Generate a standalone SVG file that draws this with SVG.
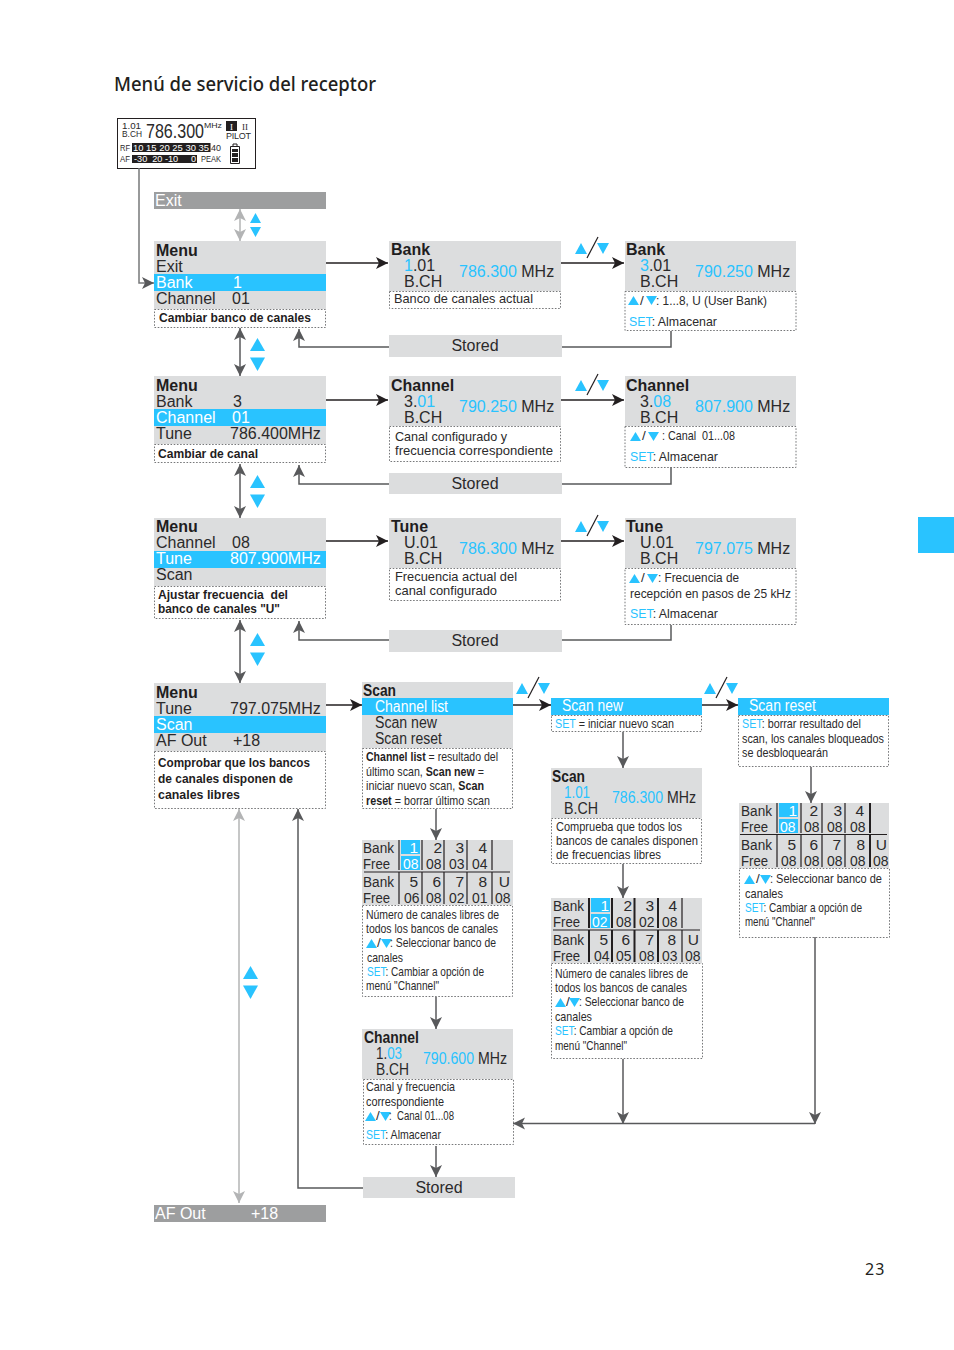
<svg xmlns="http://www.w3.org/2000/svg" xmlns:xlink="http://www.w3.org/1999/xlink" width="954" height="1350" viewBox="0 0 954 1350">
<style>
text{font-family:"Liberation Sans",Arial,sans-serif;font-size:16px;fill:#2b2a2b;white-space:pre}
.b{font-weight:700;fill:#1f1d1e}
.w{fill:#fff}
.c{fill:#29c3ff}
tspan.c{fill:#29c3ff}
.m{text-anchor:middle}
.e{text-anchor:end}
.t{font-size:15.500px}
.n{font-size:13.500px}
.nb{font-size:13.500px;font-weight:700;fill:#1f1d1e}
tspan.nb{font-weight:700;fill:#1f1d1e}
.x{font-size:9px}
.g{fill:#dcddde}
.bl{fill:#29c3ff}
.dg{fill:#9d9e9f}
.d{fill:none;stroke:#77787a;stroke-width:1;stroke-dasharray:1.6 1.6}
.k{fill:none;stroke:#231f20;stroke-width:1.4}
.s{fill:none;stroke:#58595b;stroke-width:1.5}
.l{fill:none;stroke:#b3b4b5;stroke-width:1.5}
.v{stroke:#231f20;stroke-width:2;fill:none}
.v1{stroke:#231f20;stroke-width:1.200;fill:none}
</style>
<defs>
<marker id="ak" markerUnits="userSpaceOnUse" markerWidth="14" markerHeight="14" refX="12" refY="6" orient="auto-start-reverse"><path d="M0,0L12,6L0,12L3,6Z" fill="#231f20"/></marker>
<marker id="as" markerUnits="userSpaceOnUse" markerWidth="14" markerHeight="14" refX="12" refY="6" orient="auto-start-reverse"><path d="M0,0L12,6L0,12L3,6Z" fill="#58595b"/></marker>
<marker id="al" markerUnits="userSpaceOnUse" markerWidth="14" markerHeight="14" refX="12" refY="6" orient="auto-start-reverse"><path d="M0,0L12,6L0,12L3,6Z" fill="#b3b4b5"/></marker>
<g id="tu"><path d="M0,0L5.500,-9L11,0Z" fill="#29c3ff"/></g>
<g id="td"><path d="M0,-9L11,-9L5.500,0Z" fill="#29c3ff"/></g>
<g id="updown"><path d="M0,11L6,0L12,11Z" fill="#29c3ff"/><path d="M22,0L34,0L28,11Z" fill="#29c3ff"/><path d="M12,15L23,-6" stroke="#231f20" stroke-width="1.2" fill="none"/></g>
<g id="big"><path d="M0,13L7.500,0L15,13Z" fill="#29c3ff"/><path d="M0,19.500L15,19.500L7.500,33Z" fill="#29c3ff"/></g>
</defs>

<text x="114" y="91" textLength="262" lengthAdjust="spacingAndGlyphs" style="font-family:'Noto Sans','Open Sans',sans-serif;font-size:19.500px;font-weight:500;fill:#231f20">Menú de servicio del receptor</text>

<g id="display">
<rect x="117.500" y="118.500" width="138" height="50" fill="#fff" stroke="#231f20" stroke-width="1"/>
<text x="122" y="129" class="x" textLength="19" lengthAdjust="spacingAndGlyphs">1.01</text>
<text x="122" y="137" class="x" textLength="20" lengthAdjust="spacingAndGlyphs">B.CH</text>
<text x="146" y="138" style="font-size:20px" textLength="58" lengthAdjust="spacingAndGlyphs">786.300</text>
<text x="204" y="128" style="font-size:8px" textLength="18" lengthAdjust="spacingAndGlyphs">MHz</text>
<rect x="226" y="121" width="11" height="10" fill="#231f20"/>
<text x="231.500" y="130" class="m" style="font-size:9px;font-family:'Liberation Serif',serif;fill:#fff">I</text>
<text x="245" y="130" class="m" style="font-size:9px;font-family:'Liberation Serif',serif">II</text>
<text x="226" y="139" class="x" textLength="25" lengthAdjust="spacing">PILOT</text>
<rect x="132" y="143" width="78.500" height="9" fill="#231f20"/>
<rect x="132" y="155" width="65" height="8" fill="#231f20"/>
<text x="120" y="151" style="font-size:8.500px" textLength="10" lengthAdjust="spacingAndGlyphs">RF</text>
<text x="120" y="162" style="font-size:8.500px" textLength="10" lengthAdjust="spacingAndGlyphs">AF</text>
<text x="133" y="151" class="w" style="font-size:8.500px" textLength="76" lengthAdjust="spacingAndGlyphs">10 15 20 25 30 35</text>
<text x="211" y="151" style="font-size:8.500px" textLength="10" lengthAdjust="spacingAndGlyphs">40</text>
<text x="134" y="162" class="w" style="font-size:8.500px" textLength="62" lengthAdjust="spacingAndGlyphs">-30  20 -10     0</text>
<text x="201" y="162" style="font-size:8.500px" textLength="20" lengthAdjust="spacingAndGlyphs">PEAK</text>
<path d="M230.500,146.500h9v17h-9zM233,146v-2h4v2" fill="none" stroke="#231f20" stroke-width="1"/>
<path d="M232,149h6v3h-6zM232,153h6v4h-6zM232,158h6v4h-6z" fill="#231f20"/>
</g>

<g id="connectors">
<path class="s" style="stroke:#77787a" d="M139,168V283H154" marker-end="url(#as)"/>
<path class="l" d="M240,209V241" marker-start="url(#al)" marker-end="url(#al)"/>
<path class="k" d="M326,263H388" marker-end="url(#ak)"/>
<path class="k" d="M561,263H624" marker-end="url(#ak)"/>
<path class="s" d="M240,328V376" marker-start="url(#as)" marker-end="url(#as)"/>
<path class="s" d="M389,347H299V329" marker-end="url(#as)"/>
<path class="s" d="M562,347H671V331"/>
<path class="k" d="M326,400H388" marker-end="url(#ak)"/>
<path class="k" d="M561,400H624" marker-end="url(#ak)"/>
<path class="s" d="M240,464V518" marker-start="url(#as)" marker-end="url(#as)"/>
<path class="s" d="M389,484H299V465" marker-end="url(#as)"/>
<path class="s" d="M562,484H671V467"/>
<path class="k" d="M326,541H388" marker-end="url(#ak)"/>
<path class="k" d="M561,541H624" marker-end="url(#ak)"/>
<path class="s" d="M240,620V683" marker-start="url(#as)" marker-end="url(#as)"/>
<path class="s" d="M389,640H299V621" marker-end="url(#as)"/>
<path class="s" d="M562,640H671V625"/>
<path class="k" d="M326,705H362" marker-end="url(#ak)"/>
<path class="k" d="M513,705H551" marker-end="url(#ak)"/>
<path class="k" d="M702,705H738" marker-end="url(#ak)"/>
<path class="s" d="M623,732V768" marker-end="url(#as)"/>
<path class="s" d="M623,864V898" marker-end="url(#as)"/>
<path class="s" d="M811,767V803" marker-end="url(#as)"/>
<path class="s" d="M436,809V840" marker-end="url(#as)"/>
<path class="s" d="M436,997V1029" marker-end="url(#as)"/>
<path class="s" d="M436,1146V1177" marker-end="url(#as)"/>
<path class="s" d="M623,1059V1124" marker-end="url(#as)"/>
<path class="s" d="M815,937V1124" marker-end="url(#as)"/>
<path class="s" d="M815,1123.500H513" marker-end="url(#as)"/>
<path class="s" d="M363,1188H298V809" marker-end="url(#as)"/>
<path class="l" d="M239,809V1203" marker-start="url(#al)" marker-end="url(#al)"/>
<use xlink:href="#updown" href="#updown" x="575" y="243"/>
<use xlink:href="#updown" href="#updown" x="575" y="380"/>
<use xlink:href="#updown" href="#updown" x="575" y="521"/>
<use xlink:href="#updown" href="#updown" x="516" y="683"/>
<use xlink:href="#updown" href="#updown" x="704" y="683"/>
<path d="M250,223L255.500,213L261,223ZM250,227L261,227L255.500,237Z" fill="#29c3ff"/>
<use xlink:href="#big" href="#big" x="250" y="338"/>
<use xlink:href="#big" href="#big" x="250" y="475"/>
<use xlink:href="#big" href="#big" x="250" y="633"/>
<use xlink:href="#big" href="#big" x="243" y="966"/>
</g>

<g id="exit"><rect x="154" y="192" width="172" height="17" class="dg"/><text x="155" y="206" class="w">Exit</text></g>

<g id="menu-bank">
<rect x="154" y="241" width="172" height="68" class="g"/><rect x="154" y="274" width="172" height="17" class="bl"/>
<rect x="154.500" y="309.500" width="171" height="18" class="d"/>
<text x="156" y="256" class="b">Menu</text><text x="156" y="272">Exit</text><text x="156" y="288" class="w">Bank</text><text x="233" y="288" class="w">1</text>
<text x="156" y="304">Channel</text><text x="232" y="304">01</text>
<text x="159" y="322" class="nb" textLength="152" lengthAdjust="spacingAndGlyphs">Cambiar banco de canales</text>
</g>
<g id="bank-current">
<rect x="389" y="241" width="172" height="50" class="g"/><rect x="389.500" y="291.500" width="171" height="17" class="d"/>
<text x="391" y="255" class="b">Bank</text>
<text x="404" y="271"><tspan class="c">1</tspan>.01</text><text x="404" y="287">B.CH</text>
<text x="459" y="277"><tspan class="c">786.300</tspan> MHz</text>
<text x="394" y="303" class="n" textLength="139" lengthAdjust="spacingAndGlyphs">Banco de canales actual</text>
</g>
<g id="bank-new">
<rect x="625" y="241" width="171" height="50" class="g"/><rect x="625" y="291.500" width="171" height="39" class="d"/>
<text x="626" y="255" class="b">Bank</text>
<text x="640" y="271"><tspan class="c">3</tspan>.01</text><text x="640" y="287">B.CH</text>
<text x="695" y="277"><tspan class="c">790.250</tspan> MHz</text>
<use xlink:href="#tu" href="#tu" x="628" y="305"/><use xlink:href="#td" href="#td" x="646" y="305"/>
<text x="640" y="305" class="n">/</text><text x="656" y="305" class="n" textLength="111" lengthAdjust="spacingAndGlyphs">: 1...8, U (User Bank)</text>
<text x="629" y="326" class="n" textLength="88" lengthAdjust="spacingAndGlyphs"><tspan class="c">SET</tspan>: Almacenar</text>
</g>
<g id="stored-1"><rect x="389" y="335" width="173" height="22" class="g"/><text x="475" y="351" class="m">Stored</text></g>

<g id="menu-channel">
<rect x="154" y="376" width="172" height="68" class="g"/><rect x="154" y="409" width="172" height="17" class="bl"/>
<rect x="154.500" y="444.500" width="171" height="18" class="d"/>
<text x="156" y="391" class="b">Menu</text><text x="156" y="407">Bank</text><text x="233" y="407">3</text>
<text x="156" y="423" class="w">Channel</text><text x="232" y="423" class="w">01</text>
<text x="156" y="439">Tune</text><text x="230" y="439">786.400MHz</text>
<text x="158" y="458" class="nb" textLength="100" lengthAdjust="spacingAndGlyphs">Cambiar de canal</text>
</g>
<g id="channel-current">
<rect x="389" y="376" width="172" height="50" class="g"/><rect x="389.500" y="426.500" width="171" height="35" class="d"/>
<text x="391" y="391" class="b">Channel</text>
<text x="404" y="407">3.<tspan class="c">01</tspan></text><text x="404" y="423">B.CH</text>
<text x="459" y="412"><tspan class="c">790.250</tspan> MHz</text>
<text x="395" y="441" class="n" textLength="112" lengthAdjust="spacingAndGlyphs">Canal configurado y</text><text x="395" y="455" class="n" textLength="158" lengthAdjust="spacingAndGlyphs">frecuencia correspondiente</text>
</g>
<g id="channel-new">
<rect x="625" y="376" width="171" height="50" class="g"/><rect x="625" y="426.500" width="171" height="41" class="d"/>
<text x="626" y="391" class="b">Channel</text>
<text x="640" y="407">3.<tspan class="c">08</tspan></text><text x="640" y="423">B.CH</text>
<text x="695" y="412"><tspan class="c">807.900</tspan> MHz</text>
<use xlink:href="#tu" href="#tu" x="630" y="441"/><use xlink:href="#td" href="#td" x="648" y="441"/>
<text x="642" y="440" class="n">/</text><text x="662" y="440" class="n" textLength="73" lengthAdjust="spacingAndGlyphs">: Canal  01...08</text>
<text x="630" y="461" class="n" textLength="88" lengthAdjust="spacingAndGlyphs"><tspan class="c">SET</tspan>: Almacenar</text>
</g>
<g id="stored-2"><rect x="389" y="473" width="173" height="21" class="g"/><text x="475" y="489" class="m">Stored</text></g>

<g id="menu-tune">
<rect x="154" y="518" width="172" height="68" class="g"/><rect x="154" y="551" width="172" height="17" class="bl"/>
<rect x="154.500" y="586.500" width="171" height="32" class="d"/>
<text x="156" y="532" class="b">Menu</text><text x="156" y="548">Channel</text><text x="232" y="548">08</text>
<text x="156" y="564" class="w">Tune</text><text x="230" y="564" class="w">807.900MHz</text>
<text x="156" y="580">Scan</text>
<text x="158" y="599" class="nb" textLength="130" lengthAdjust="spacingAndGlyphs">Ajustar frecuencia  del</text><text x="158" y="613" class="nb" textLength="122" lengthAdjust="spacingAndGlyphs">banco de canales "U"</text>
</g>
<g id="tune-current">
<rect x="389" y="518" width="172" height="50" class="g"/><rect x="389.500" y="568.500" width="171" height="32" class="d"/>
<text x="391" y="532" class="b">Tune</text>
<text x="404" y="548">U.01</text><text x="404" y="564">B.CH</text>
<text x="459" y="554"><tspan class="c">786.300</tspan> MHz</text>
<text x="395" y="581" class="n" textLength="122" lengthAdjust="spacingAndGlyphs">Frecuencia actual del</text><text x="395" y="595" class="n" textLength="102" lengthAdjust="spacingAndGlyphs">canal configurado</text>
</g>
<g id="tune-new">
<rect x="625" y="518" width="171" height="50" class="g"/><rect x="625" y="568.500" width="171" height="56" class="d"/>
<text x="626" y="532" class="b">Tune</text>
<text x="640" y="548">U.01</text><text x="640" y="564">B.CH</text>
<text x="695" y="554"><tspan class="c">797.075</tspan> MHz</text>
<use xlink:href="#tu" href="#tu" x="629" y="583"/><use xlink:href="#td" href="#td" x="647" y="583"/>
<text x="641" y="582" class="n">/</text><text x="658" y="582" class="n" textLength="81" lengthAdjust="spacingAndGlyphs">: Frecuencia de</text>
<text x="630" y="598" class="n" textLength="161" lengthAdjust="spacingAndGlyphs">recepción en pasos de 25 kHz</text>
<text x="630" y="618" class="n" textLength="88" lengthAdjust="spacingAndGlyphs"><tspan class="c">SET</tspan>: Almacenar</text>
</g>
<g id="stored-3"><rect x="389" y="630" width="173" height="22" class="g"/><text x="475" y="646" class="m">Stored</text></g>

<g id="menu-scan">
<rect x="154" y="683" width="172" height="68" class="g"/><rect x="154" y="716" width="172" height="17" class="bl"/>
<rect x="154.500" y="751.500" width="171" height="57" class="d"/>
<text x="156" y="698" class="b">Menu</text><text x="156" y="714">Tune</text><text x="230" y="714">797.075MHz</text>
<text x="156" y="730" class="w">Scan</text>
<text x="156" y="746">AF Out</text><text x="233" y="746">+18</text>
<text x="158" y="767" class="nb" textLength="152" lengthAdjust="spacingAndGlyphs">Comprobar que los bancos</text><text x="158" y="783" class="nb" textLength="135" lengthAdjust="spacingAndGlyphs">de canales disponen de</text><text x="158" y="799" class="nb" textLength="82" lengthAdjust="spacingAndGlyphs">canales libres</text>
</g>
<g id="scan-list">
<rect x="362" y="682" width="151" height="66" class="g"/><rect x="362" y="698" width="151" height="17" class="bl"/>
<rect x="362.500" y="748.500" width="150" height="60" class="d"/>
<text x="363" y="696" class="b" textLength="33" lengthAdjust="spacingAndGlyphs">Scan</text><text x="375" y="712" class="w" textLength="73" lengthAdjust="spacingAndGlyphs">Channel list</text><text x="375" y="728" textLength="62" lengthAdjust="spacingAndGlyphs">Scan new</text><text x="375" y="744" textLength="67" lengthAdjust="spacingAndGlyphs">Scan reset</text>
<text x="366" y="761" class="n" textLength="132" lengthAdjust="spacingAndGlyphs"><tspan class="nb">Channel list</tspan> = resultado del</text>
<text x="366" y="776" class="n" textLength="118" lengthAdjust="spacingAndGlyphs">último scan, <tspan class="nb">Scan new</tspan> =</text>
<text x="366" y="790" class="n" textLength="118" lengthAdjust="spacingAndGlyphs">iniciar nuevo scan, <tspan class="nb">Scan</tspan></text>
<text x="366" y="805" class="n" textLength="124" lengthAdjust="spacingAndGlyphs"><tspan class="nb">reset</tspan> = borrar último scan</text>
</g>
<g id="scan-new">
<rect x="551" y="698" width="151" height="17" class="bl"/><rect x="551.500" y="715.500" width="150" height="16" class="d"/>
<text x="562" y="711" class="w" textLength="61" lengthAdjust="spacingAndGlyphs">Scan new</text>
<text x="555" y="728" class="n" textLength="119" lengthAdjust="spacingAndGlyphs"><tspan class="c">SET</tspan> = iniciar nuevo scan</text>
</g>
<g id="scan-reset">
<rect x="738" y="698" width="151" height="17" class="bl"/><rect x="738.500" y="715.500" width="150" height="51" class="d"/>
<text x="749" y="711" class="w" textLength="67" lengthAdjust="spacingAndGlyphs">Scan reset</text>
<text x="742" y="728" class="n" textLength="119" lengthAdjust="spacingAndGlyphs"><tspan class="c">SET</tspan>: borrar resultado del</text>
<text x="742" y="743" class="n" textLength="142" lengthAdjust="spacingAndGlyphs">scan, los canales bloqueados</text>
<text x="742" y="757" class="n" textLength="86" lengthAdjust="spacingAndGlyphs">se desbloquearán</text>
</g>
<g id="scan-progress">
<rect x="551" y="768" width="151" height="50" class="g"/><rect x="551.500" y="818.500" width="150" height="45" class="d"/>
<text x="552" y="782" class="b" textLength="33" lengthAdjust="spacingAndGlyphs">Scan</text>
<text x="564" y="798" class="c" textLength="26" lengthAdjust="spacingAndGlyphs">1.01</text><text x="564" y="814" textLength="34" lengthAdjust="spacingAndGlyphs">B.CH</text>
<text x="612" y="803" textLength="84" lengthAdjust="spacingAndGlyphs"><tspan class="c">786.300</tspan> MHz</text>
<text x="556" y="831" class="n" textLength="126" lengthAdjust="spacingAndGlyphs">Comprueba que todos los</text><text x="556" y="845" class="n" textLength="142" lengthAdjust="spacingAndGlyphs">bancos de canales disponen</text><text x="556" y="859" class="n" textLength="105" lengthAdjust="spacingAndGlyphs">de frecuencias libres</text>
</g>

<g id="table-list">
<rect x="362" y="840" width="151" height="65" class="g"/>
<rect x="401" y="840" width="19" height="14" class="bl"/><rect x="401" y="856" width="19" height="14" class="bl"/>
<path class="v1" d="M399,840V870M422,840V870M444,840V870M467,840V870M492,840V870M364,872H510M399,872V904M422,872V904M444,872V904M467,872V904M492,872V904"/>
<g class="t">
<text class="t" x="363" y="853" textLength="31" lengthAdjust="spacingAndGlyphs">Bank</text><text class="t" x="363" y="869" textLength="27" lengthAdjust="spacingAndGlyphs">Free</text><text class="t" x="363" y="887" textLength="31" lengthAdjust="spacingAndGlyphs">Bank</text><text class="t" x="363" y="903" textLength="27" lengthAdjust="spacingAndGlyphs">Free</text>
<text x="418" y="853" class="t e w">1</text><text x="442" y="853" class="t e">2</text><text x="464" y="853" class="t e">3</text><text x="487" y="853" class="t e">4</text>
<text x="403" y="869" class="t w" textLength="15.500" lengthAdjust="spacingAndGlyphs">08</text><text x="426" y="869" class="t" textLength="15.500" lengthAdjust="spacingAndGlyphs">08</text><text x="449" y="869" class="t" textLength="15.500" lengthAdjust="spacingAndGlyphs">03</text><text x="472" y="869" class="t" textLength="15.500" lengthAdjust="spacingAndGlyphs">04</text>
<text x="418" y="887" class="t e">5</text><text x="441" y="887" class="t e">6</text><text x="464" y="887" class="t e">7</text><text x="487" y="887" class="t e">8</text><text x="510" y="887" class="t e">U</text>
<text x="404" y="903" class="t" textLength="15.500" lengthAdjust="spacingAndGlyphs">06</text><text x="426" y="903" class="t" textLength="15.500" lengthAdjust="spacingAndGlyphs">08</text><text x="449" y="903" class="t" textLength="15.500" lengthAdjust="spacingAndGlyphs">02</text><text x="472" y="903" class="t" textLength="15.500" lengthAdjust="spacingAndGlyphs">01</text><text x="495" y="903" class="t" textLength="15.500" lengthAdjust="spacingAndGlyphs">08</text>
</g>
<rect x="362.500" y="905.500" width="150" height="91" class="d"/>
<text x="366" y="919" class="n" textLength="133" lengthAdjust="spacingAndGlyphs">Número de canales libres de</text><text x="366" y="933" class="n" textLength="132" lengthAdjust="spacingAndGlyphs">todos los bancos de canales</text>
<use xlink:href="#tu" href="#tu" x="366" y="948"/><use xlink:href="#td" href="#td" x="381" y="948"/>
<text x="377" y="947" class="n">/</text><text x="390" y="947" class="n" textLength="106" lengthAdjust="spacingAndGlyphs">: Seleccionar banco de</text>
<text x="367" y="962" class="n" textLength="36" lengthAdjust="spacingAndGlyphs">canales</text>
<text x="367" y="976" class="n" textLength="117" lengthAdjust="spacingAndGlyphs"><tspan class="c">SET</tspan>: Cambiar a opción de</text>
<text x="366" y="990" class="n" textLength="73" lengthAdjust="spacingAndGlyphs">menú "Channel"</text>
</g>
<g id="table-new">
<rect x="551" y="898" width="151" height="65" class="g"/>
<rect x="591" y="898" width="19" height="14" class="bl"/><rect x="591" y="914" width="19" height="14" class="bl"/>
<path class="v" d="M589,898V928M612,898V928M634.500,898V928M658,898V928M589,930V962M612,930V962M634.500,930V962M658,930V962"/>
<path class="v1" d="M682,898V928M553,930H700M682,930V962"/>
<text class="t" x="553" y="911" textLength="31" lengthAdjust="spacingAndGlyphs">Bank</text><text class="t" x="553" y="927" textLength="27" lengthAdjust="spacingAndGlyphs">Free</text><text class="t" x="553" y="945" textLength="31" lengthAdjust="spacingAndGlyphs">Bank</text><text class="t" x="553" y="961" textLength="27" lengthAdjust="spacingAndGlyphs">Free</text>
<text x="609" y="911" class="t e w">1</text><text x="632" y="911" class="t e">2</text><text x="654" y="911" class="t e">3</text><text x="677" y="911" class="t e">4</text>
<text x="592" y="927" class="t w" textLength="15.500" lengthAdjust="spacingAndGlyphs">02</text><text x="616" y="927" class="t" textLength="15.500" lengthAdjust="spacingAndGlyphs">08</text><text x="639" y="927" class="t" textLength="15.500" lengthAdjust="spacingAndGlyphs">02</text><text x="662" y="927" class="t" textLength="15.500" lengthAdjust="spacingAndGlyphs">08</text>
<text x="608" y="945" class="t e">5</text><text x="630" y="945" class="t e">6</text><text x="654" y="945" class="t e">7</text><text x="676" y="945" class="t e">8</text><text x="699" y="945" class="t e">U</text>
<text x="594" y="961" class="t" textLength="15.500" lengthAdjust="spacingAndGlyphs">04</text><text x="616" y="961" class="t" textLength="15.500" lengthAdjust="spacingAndGlyphs">05</text><text x="639" y="961" class="t" textLength="15.500" lengthAdjust="spacingAndGlyphs">08</text><text x="662" y="961" class="t" textLength="15.500" lengthAdjust="spacingAndGlyphs">03</text><text x="685" y="961" class="t" textLength="15.500" lengthAdjust="spacingAndGlyphs">08</text>
<rect x="551.500" y="963.500" width="151" height="95" class="d"/>
<text x="555" y="978" class="n" textLength="133" lengthAdjust="spacingAndGlyphs">Número de canales libres de</text><text x="555" y="992" class="n" textLength="132" lengthAdjust="spacingAndGlyphs">todos los bancos de canales</text>
<use xlink:href="#tu" href="#tu" x="555" y="1007"/><use xlink:href="#td" href="#td" x="569" y="1007"/>
<text x="566" y="1006" class="n">/</text><text x="579" y="1006" class="n" textLength="105" lengthAdjust="spacingAndGlyphs">: Seleccionar banco de</text>
<text x="555" y="1021" class="n" textLength="37" lengthAdjust="spacingAndGlyphs">canales</text>
<text x="555" y="1035" class="n" textLength="118" lengthAdjust="spacingAndGlyphs"><tspan class="c">SET</tspan>: Cambiar a opción de</text>
<text x="555" y="1050" class="n" textLength="72" lengthAdjust="spacingAndGlyphs">menú "Channel"</text>
</g>
<g id="table-reset">
<rect x="739" y="803" width="150" height="65" class="g"/>
<rect x="779" y="803" width="19" height="14" class="bl"/><rect x="779" y="819" width="19" height="14" class="bl"/>
<path class="v1" d="M777,803V833M801,803V833M822,803V833M845,803V833M740,834.500H887M777,835V867M801,835V867M822,835V867M845,835V867"/>
<path class="v" d="M870,803V833M870,835V867"/>
<text class="t" x="741" y="816" textLength="31" lengthAdjust="spacingAndGlyphs">Bank</text><text class="t" x="741" y="832" textLength="27" lengthAdjust="spacingAndGlyphs">Free</text><text class="t" x="741" y="850" textLength="31" lengthAdjust="spacingAndGlyphs">Bank</text><text class="t" x="741" y="866" textLength="27" lengthAdjust="spacingAndGlyphs">Free</text>
<text x="797" y="816" class="t e w">1</text><text x="818" y="816" class="t e">2</text><text x="842" y="816" class="t e">3</text><text x="864" y="816" class="t e">4</text>
<text x="780" y="832" class="t w" textLength="15.500" lengthAdjust="spacingAndGlyphs">08</text><text x="804" y="832" class="t" textLength="15.500" lengthAdjust="spacingAndGlyphs">08</text><text x="827" y="832" class="t" textLength="15.500" lengthAdjust="spacingAndGlyphs">08</text><text x="850" y="832" class="t" textLength="15.500" lengthAdjust="spacingAndGlyphs">08</text>
<text x="796" y="850" class="t e">5</text><text x="818" y="850" class="t e">6</text><text x="841" y="850" class="t e">7</text><text x="865" y="850" class="t e">8</text><text x="887" y="850" class="t e">U</text>
<text x="781" y="866" class="t" textLength="15.500" lengthAdjust="spacingAndGlyphs">08</text><text x="804" y="866" class="t" textLength="15.500" lengthAdjust="spacingAndGlyphs">08</text><text x="827" y="866" class="t" textLength="15.500" lengthAdjust="spacingAndGlyphs">08</text><text x="850" y="866" class="t" textLength="15.500" lengthAdjust="spacingAndGlyphs">08</text><text x="873" y="866" class="t" textLength="15.500" lengthAdjust="spacingAndGlyphs">08</text>
<rect x="739.500" y="868.500" width="150" height="69" class="d"/>
<use xlink:href="#tu" href="#tu" x="744" y="884"/><use xlink:href="#td" href="#td" x="760" y="884"/>
<text x="756" y="883" class="n">/</text><text x="770" y="883" class="n" textLength="112" lengthAdjust="spacingAndGlyphs">: Seleccionar banco de</text>
<text x="745" y="898" class="n" textLength="38" lengthAdjust="spacingAndGlyphs">canales</text>
<text x="745" y="912" class="n" textLength="117" lengthAdjust="spacingAndGlyphs"><tspan class="c">SET</tspan>: Cambiar a opción de</text>
<text x="745" y="926" class="n" textLength="70" lengthAdjust="spacingAndGlyphs">menú "Channel"</text>
</g>
<g id="channel-result">
<rect x="362" y="1029" width="151" height="50" class="g"/><rect x="363.500" y="1079.500" width="150" height="65" class="d"/>
<text x="364" y="1043" class="b" textLength="55" lengthAdjust="spacingAndGlyphs">Channel</text>
<text x="376" y="1059" textLength="26" lengthAdjust="spacingAndGlyphs">1.<tspan class="c">03</tspan></text><text x="376" y="1075" textLength="33" lengthAdjust="spacingAndGlyphs">B.CH</text>
<text x="423" y="1064" textLength="84" lengthAdjust="spacingAndGlyphs"><tspan class="c">790.600</tspan> MHz</text>
<text x="366" y="1091" class="n" textLength="89" lengthAdjust="spacingAndGlyphs">Canal y frecuencia</text><text x="366" y="1106" class="n" textLength="78" lengthAdjust="spacingAndGlyphs">correspondiente</text>
<use xlink:href="#tu" href="#tu" x="365" y="1121"/><use xlink:href="#td" href="#td" x="380" y="1121"/>
<text x="376" y="1120" class="n">/</text><text x="389" y="1120" class="n" textLength="65" lengthAdjust="spacingAndGlyphs">:  Canal 01...08</text>
<text x="366" y="1139" class="n" textLength="75" lengthAdjust="spacingAndGlyphs"><tspan class="c">SET</tspan>: Almacenar</text>
</g>
<g id="stored-4"><rect x="363" y="1177" width="152" height="21" class="g"/><text x="439" y="1193" class="m">Stored</text></g>
<g id="af-out"><rect x="154" y="1205" width="172" height="17" class="dg"/><text x="155" y="1219" class="w">AF Out</text><text x="251" y="1219" class="w">+18</text></g>

<rect id="side-tab" x="918" y="517" width="36" height="36" class="bl"/>
<text x="865" y="1275" style="font-family:'Noto Sans','Open Sans',sans-serif;font-size:16px;letter-spacing:1px;fill:#231f20">23</text>
</svg>
